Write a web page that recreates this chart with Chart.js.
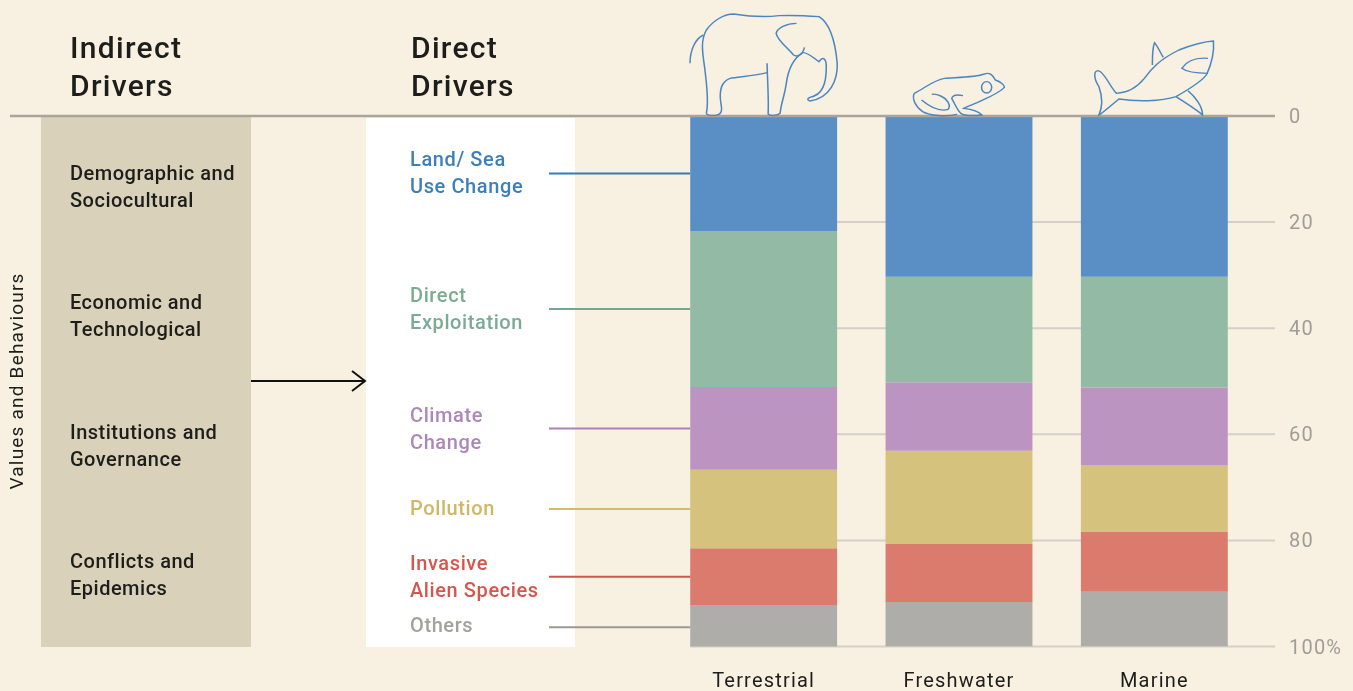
<!DOCTYPE html>
<html>
<head>
<meta charset="utf-8">
<title>Drivers</title>
<script src="https://cdn.jsdelivr.net/npm/chart.js@4"></script>
<style>
  html, body { margin: 0; padding: 0; background: #f8f1e1; overflow: hidden; }
  canvas { display: block; }
</style>
</head>
<body>
<canvas id="drivers-chart" width="1353" height="691"></canvas>
<script>
const categories = ["Terrestrial", "Freshwater", "Marine"];
const driverNames = ["Land/ Sea Use Change", "Direct Exploitation", "Climate Change", "Pollution", "Invasive Alien Species", "Others"];
const landSea = [21.7, 30.3, 30.3];
const exploitation = [29.4, 19.9, 20.9];
const climate = [15.6, 12.9, 14.7];
const pollution = [14.8, 17.6, 12.4];
const invasive = [10.7, 10.9, 11.4];
const others = [8.3, 8.4, 10.3];
const gridValues = [20, 40, 60, 80, 100];

const font = "Roboto, sans-serif";
const barColors = ["#5a8fc5", "#93baa5", "#bb94c2", "#d5c27c", "#db7b6d", "#aeadaa"];
const labelColors = ["#3d7fbd", "#7bab93", "#ad86ba", "#cfb766", "#d6564c", "#a3a19c"];
const lineColors = ["#2f7cb8", "#73a78f", "#ab82b8", "#d2bb6b", "#d4534b", "#9a9995"];

// one entry per driver: the wrapped text and the baseline of its first line
const driverLabels = [
  { lines: ["Land/ Sea", "Use Change"], y: 166 },
  { lines: ["Direct", "Exploitation"], y: 302 },
  { lines: ["Climate", "Change"], y: 422 },
  { lines: ["Pollution"], y: 515 },
  { lines: ["Invasive", "Alien Species"], y: 570 },
  { lines: ["Others"], y: 632 },
];
const indirectLabels = [
  { lines: ["Demographic and", "Sociocultural"], y: 180 },
  { lines: ["Economic and", "Technological"], y: 309 },
  { lines: ["Institutions and", "Governance"], y: 439 },
  { lines: ["Conflicts and", "Epidemics"], y: 568 },
];

const elephant = [
  "M100 340C108 300 100 250 95 200C88 150 85 120 100 90C120 60 150 42 175 42C210 48 260 52 300 47C340 45 385 48 410 50C440 70 455 130 460 190C462 240 440 295 385 303C376 300 378 295 385 292C420 285 430 250 430 200C430 175 420 168 410 185C395 175 385 160 365 157",
  "M348 70C320 70 295 85 292 100C295 120 320 140 340 165C350 172 365 165 370 142",
  "M365 158C340 175 325 210 320 250C315 290 305 310 303 340C295 348 275 348 270 342C272 300 268 240 267 190",
  "M267 218C235 228 190 230 165 235C140 245 135 275 140 310C145 335 140 345 125 346C110 347 100 345 100 340",
  "M92 105C70 115 55 150 55 190",
];
const frog = [
  "M672 280C700 265 725 240 755 235C790 232 840 232 865 222C880 215 890 228 895 240C910 245 920 255 920 262C905 280 870 295 845 308C830 315 815 320 808 325C830 328 850 335 858 345C830 348 810 348 800 340C790 330 783 310 775 295C778 285 790 283 806 287",
  "M672 280C665 295 675 320 695 335C715 348 760 350 790 343",
  "M692 300C720 325 745 335 765 328C775 315 760 295 745 288C735 283 725 282 720 283",
  "M885 262A14 17 0 1 1 857 262A14 17 0 1 1 885 262Z",
];
const shark = [
  "M1180 345C1190 320 1190 290 1180 260C1165 235 1165 212 1178 212C1195 215 1210 260 1228 280C1260 278 1285 262 1305 235C1325 205 1345 180 1400 150C1435 135 1465 125 1495 123C1498 160 1490 190 1477 222C1470 235 1440 260 1392 290C1350 305 1280 305 1235 297C1215 315 1195 335 1178 347",
  "M1327 195C1327 170 1328 140 1333 128C1342 140 1350 160 1357 172",
  "M1392 290C1420 310 1450 330 1465 345C1465 320 1445 290 1425 272",
  "M1480 220C1450 220 1420 215 1408 205C1420 185 1445 172 1480 175",
];

function drawLines(ctx, lines, x, y, step, style, color) {
  ctx.font = `${style} ${font}`;
  ctx.fillStyle = color;
  lines.forEach((line, i) => ctx.fillText(line, x, y + i * step));
}

// panels and reference lines sit behind the bars
const backdropPlugin = {
  id: "backdrop",
  beforeDraw(chart) {
    // axis tick labels pick this up, Chart.js has no option for it
    chart.ctx.letterSpacing = "1.2px";
  },
  beforeDatasetsDraw(chart) {
    const { ctx, scales } = chart;
    const bar = chart.getDatasetMeta(0).data[0];
    const gridLeft = bar.x - bar.width / 2;
    ctx.save();
    ctx.fillStyle = "#d9d1b9";
    ctx.fillRect(41, 117, 210, 530);
    ctx.fillStyle = "#ffffff";
    ctx.fillRect(366, 118, 209, 529);
    ctx.strokeStyle = "#d3cfca";
    ctx.lineWidth = 2;
    gridValues.forEach((value) => {
      const y = scales.y.getPixelForValue(value);
      ctx.beginPath();
      ctx.moveTo(gridLeft, y);
      ctx.lineTo(1275, y);
      ctx.stroke();
    });
    ctx.restore();
  },
  afterDatasetsDraw(chart) {
    const { ctx, scales, data } = chart;
    const bar = chart.getDatasetMeta(0).data[0];
    const barLeft = bar.x - bar.width / 2;
    ctx.save();

    // zero line across the whole figure
    ctx.strokeStyle = "#a9a49c";
    ctx.lineWidth = 2.5;
    ctx.beginPath();
    ctx.moveTo(10, scales.y.getPixelForValue(0));
    ctx.lineTo(1275, scales.y.getPixelForValue(0));
    ctx.stroke();

    // connectors run to the middle of each Terrestrial segment
    let running = 0;
    data.datasets.forEach((dataset, i) => {
      const value = dataset.data[0];
      const y = scales.y.getPixelForValue(running + value / 2);
      running += value;
      ctx.strokeStyle = lineColors[i];
      ctx.lineWidth = 2;
      ctx.beginPath();
      ctx.moveTo(549, y);
      ctx.lineTo(barLeft, y);
      ctx.stroke();
    });

    ctx.textBaseline = "alphabetic";
    ctx.textAlign = "left";
    ctx.letterSpacing = "1.3px";
    drawLines(ctx, ["Indirect", "Drivers"], 70, 58, 38, "500 30px", "#1d1d1b");
    drawLines(ctx, ["Direct", "Drivers"], 411, 58, 38, "500 30px", "#1d1d1b");
    ctx.letterSpacing = "0.5px";
    indirectLabels.forEach((item) => drawLines(ctx, item.lines, 70, item.y, 26.5, "500 20px", "#1d1d1b"));
    ctx.letterSpacing = "0.6px";
    driverLabels.forEach((item, i) => drawLines(ctx, item.lines, 410, item.y, 26.5, "500 20px", labelColors[i]));

    ctx.save();
    ctx.translate(23, 381);
    ctx.rotate(-Math.PI / 2);
    ctx.textAlign = "center";
    ctx.letterSpacing = "1.2px";
    ctx.font = `19px ${font}`;
    ctx.fillStyle = "#1d1d1b";
    ctx.fillText("Values and Behaviours", 0, 0);
    ctx.restore();

    // arrow from indirect to direct drivers
    ctx.strokeStyle = "#111111";
    ctx.lineWidth = 2;
    ctx.beginPath();
    ctx.moveTo(251, 381);
    ctx.lineTo(365, 381);
    ctx.moveTo(352, 371);
    ctx.lineTo(365, 381);
    ctx.lineTo(352, 391);
    ctx.stroke();

    // animal outlines, crop was shown at 2.75x across and 3x down
    ctx.translate(670, 0);
    ctx.scale(0.3635, 1 / 3);
    ctx.strokeStyle = "#4b86c0";
    ctx.lineWidth = 4.2;
    [...elephant, ...frog, ...shark].forEach((d) => ctx.stroke(new Path2D(d)));
    ctx.restore();
  },
};

const seriesValues = [landSea, exploitation, climate, pollution, invasive, others];

new Chart(document.getElementById("drivers-chart"), {
  type: "bar",
  data: {
    labels: categories,
    datasets: driverNames.map((name, i) => ({
      label: name,
      data: seriesValues[i],
      backgroundColor: barColors[i],
      borderWidth: 0,
      barPercentage: 0.752,
      categoryPercentage: 1,
    })),
  },
  options: {
    responsive: false,
    animation: false,
    layout: { padding: { left: 666, top: 116, right: 0, bottom: 0 } },
    plugins: { legend: { display: false }, tooltip: { enabled: false } },
    scales: {
      x: {
        stacked: true,
        grid: { display: false, drawTicks: false },
        border: { display: false },
        afterFit(scale) { scale.height = 44.5; },
        ticks: { color: "#1d1d1b", padding: 23.5, maxRotation: 0, autoSkip: false, font: { family: font, size: 20 } },
      },
      y: {
        stacked: true,
        position: "right",
        reverse: true,
        min: 0,
        max: 100,
        // y tick padding also insets the plot bottom, so part of the gap comes from tickLength
        grid: { display: false, drawTicks: true, tickLength: 4.5 },
        border: { display: false },
        afterFit(scale) { scale.width = 101; },
        ticks: {
          stepSize: 20,
          color: "#9f9d97",
          padding: 32.5,
          labelOffset: 2,
          font: { family: font, size: 20 },
          callback: (value) => (value === 100 ? "100%" : value),
        },
      },
    },
  },
  plugins: [backdropPlugin],
});
</script>
</body>
</html>
